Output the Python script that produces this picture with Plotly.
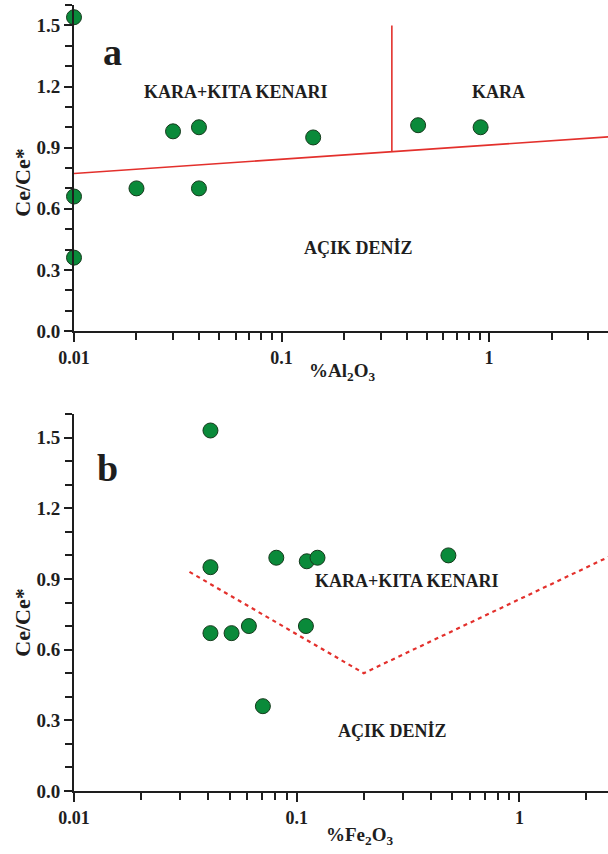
import numpy as np
import plotly.graph_objects as go
from plotly.subplots import make_subplots

# Panel a: Ce/Ce* against %Al2O3
al2o3 = [0.01, 0.01, 0.01, 0.02, 0.04, 0.03, 0.04, 0.142, 0.455, 0.91]
ce_a = [1.54, 0.66, 0.36, 0.70, 0.70, 0.98, 1.00, 0.95, 1.01, 1.00]

# Panel b: Ce/Ce* against %Fe2O3
fe2o3 = [0.041, 0.041, 0.081, 0.111, 0.124, 0.48, 0.041, 0.051, 0.061, 0.11, 0.0705]
ce_b = [1.53, 0.95, 0.99, 0.975, 0.99, 1.00, 0.67, 0.67, 0.70, 0.70, 0.36]

# Field boundaries
bound_a_x = [0.01, 0.34, 3.75]
bound_a_y = [0.773, 0.88, 0.953]
split_a_x = [0.34, 0.34]
split_a_y = [0.88, 1.5]
bound_b_x = [0.033, 0.2, 2.6]
bound_b_y = [0.93, 0.5, 1.0]

y_ticks = [0.0, 0.3, 0.6, 0.9, 1.2, 1.5]
y_tick_text = ["0.0", "0.3", "0.6", "0.9", "1.2", "1.5"]
x_ticks = [0.01, 0.1, 1]
x_tick_text = ["0.01", "0.1", "1"]

FONT = "Liberation Serif"
INK = "#1e1e1e"
RED = "#e3302c"
GREEN = "#0a8a3a"

fig = make_subplots(rows=2, cols=1)
H = 854
T, B = 5, 63
plot_h = H - T - B
fig.update_layout(
    yaxis=dict(domain=[(791 - 331) / plot_h, 1.0]),
    yaxis2=dict(domain=[0.0, (791 - 414) / plot_h]),
)

marker = dict(size=15, color=GREEN, line=dict(color="#153a1c", width=1))

fig.add_trace(go.Scatter(x=bound_a_x, y=bound_a_y, mode="lines",
                         line=dict(color=RED, width=1.6), hoverinfo="skip"), row=1, col=1)
fig.add_trace(go.Scatter(x=split_a_x, y=split_a_y, mode="lines",
                         line=dict(color=RED, width=1.6), hoverinfo="skip"), row=1, col=1)
fig.add_trace(go.Scatter(x=al2o3, y=ce_a, mode="markers", marker=marker,
                         cliponaxis=False), row=1, col=1)

fig.add_trace(go.Scatter(x=bound_b_x, y=bound_b_y, mode="lines",
                         line=dict(color=RED, width=2.2, dash="4px,4px"),
                         hoverinfo="skip"), row=2, col=1)
fig.add_trace(go.Scatter(x=fe2o3, y=ce_b, mode="markers", marker=marker,
                         cliponaxis=False), row=2, col=1)


def minor_log(lo, hi):
    vals = []
    for d in range(lo, hi):
        for k in range(2, 10):
            vals.append(k * 10.0 ** d)
    return vals


def bold(labels):
    return ["<b>%s</b>" % s for s in labels]


x_common = dict(
    type="log", tickvals=x_ticks, ticktext=bold(x_tick_text),
    ticks="outside", ticklen=9, tickwidth=2, tickcolor=INK,
    showline=True, linecolor=INK, linewidth=2, showgrid=False, zeroline=False,
    tickfont=dict(family=FONT, size=18, color=INK),
    minor=dict(tickvals=minor_log(-2, 1), ticks="outside", ticklen=7,
               tickwidth=2, tickcolor=INK, showgrid=False),
)
fig.update_xaxes(range=[-2, np.log10(3.74)], row=1, col=1, **x_common)
fig.update_xaxes(range=[-2, np.log10(2.5)], row=2, col=1, **x_common)

y_common = dict(
    range=[0, 1.6], tickvals=y_ticks, ticktext=bold(y_tick_text),
    ticks="outside", ticklen=8, tickwidth=2, tickcolor=INK,
    showline=True, linecolor=INK, linewidth=2, showgrid=False, zeroline=False,
    tickfont=dict(family=FONT, size=19, color=INK), ticklabelstandoff=0,
    minor=dict(dtick=0.1, tick0=0, ticks="outside", ticklen=7,
               tickwidth=2, tickcolor=INK, showgrid=False),
)
fig.update_yaxes(row=1, col=1, **y_common)
fig.update_yaxes(row=2, col=1, **y_common)

ann = []


def add_text(text, x, y, xref, yref, size=16, angle=0):
    ann.append(dict(text="<b>%s</b>" % text, x=x, y=y, xref=xref, yref=yref,
                    showarrow=False,
                    font=dict(family=FONT, size=size, color=INK),
                    textangle=angle, xanchor="center", yanchor="middle"))


# Panel letters
add_text("a", np.log10(0.0154), 1.37, "x", "y", size=38)
add_text("b", np.log10(0.0141), 1.37, "x2", "y2", size=38)

# Field names
add_text("KARA+KITA KENARI", np.log10(0.0597), 1.173, "x", "y", size=18)
add_text("KARA", np.log10(1.105), 1.173, "x", "y", size=18)
add_text("AÇIK DENİZ", np.log10(0.236), 0.407, "x", "y", size=18)
add_text("KARA+KITA KENARI", np.log10(0.31), 0.891, "x2", "y2", size=18)
add_text("AÇIK DENİZ", np.log10(0.268), 0.255, "x2", "y2", size=18)

# Axis titles
add_text("Ce/Ce*", -0.098, 0.726, "x domain", "y", size=22, angle=-90)
add_text("Ce/Ce*", -0.098, 0.713, "x2 domain", "y2", size=22, angle=-90)
add_text("%Al<sub>2</sub>O<sub>3</sub>", 0.502, -0.126, "x domain", "y domain", size=19)
add_text("%Fe<sub>2</sub>O<sub>3</sub>", 0.534, -0.119, "x2 domain", "y2 domain", size=19)

fig.update_layout(
    width=608, height=H,
    margin=dict(l=74, r=0, t=T, b=B),
    paper_bgcolor="white", plot_bgcolor="white",
    showlegend=False,
    annotations=ann,
    font=dict(family=FONT, color=INK),
)

fig.write_html("out.html")
